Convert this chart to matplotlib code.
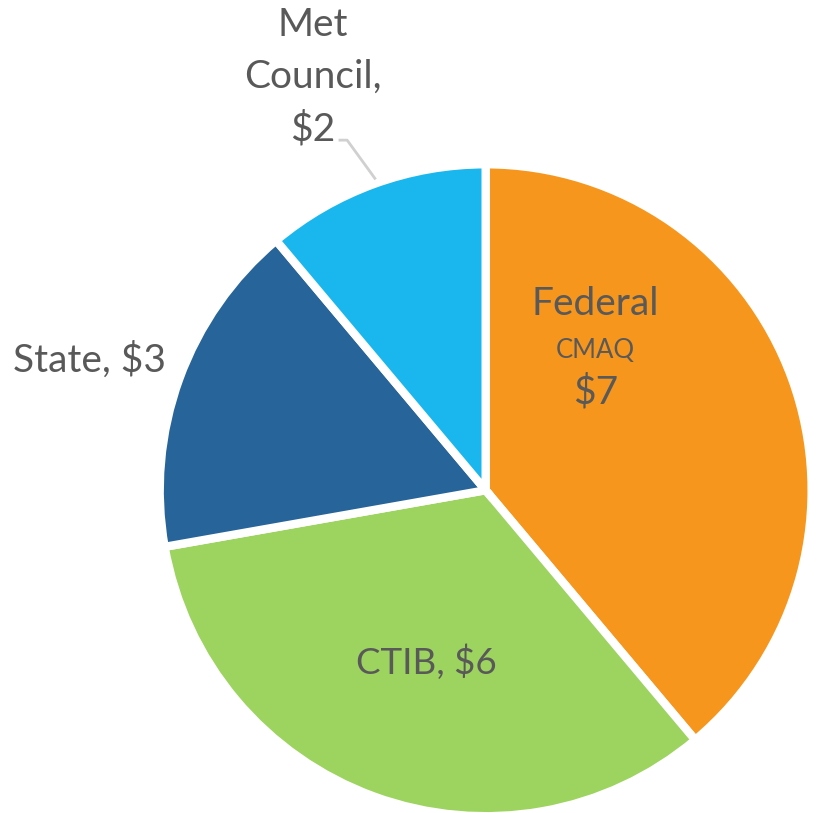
import matplotlib.pyplot as plt

# ---------- Data ----------
labels = ["Federal", "CTIB", "State", "Met Council"]
values = [7, 6, 3, 2]
colors = ["#F7961D", "#9DD35F", "#276499", "#1AB6EE"]

plt.rcParams["font.family"] = ["Lato", "DejaVu Sans"]
text_color = "#595959"

fig = plt.figure(figsize=(8.19, 8.13), dpi=100)
ax = fig.add_axes([0.195, -0.004, 0.796, 0.802])

ax.pie(
    values,
    colors=colors,
    startangle=90,
    counterclock=False,
    radius=1.0,
    wedgeprops=dict(edgecolor="white", linewidth=6),
)
ax.set_xlim(-1, 1)
ax.set_ylim(-1, 1)
ax.set_aspect("equal")
ax.axis("off")

# ---------- Labels ----------
ax.text(0.337, 0.57, labels[0], ha="center", va="center", fontsize=28, color=text_color)
ax.text(0.337, 0.43, "CMAQ", ha="center", va="center", fontsize=18.5, color=text_color)
ax.text(0.337, 0.30, f"${values[0]}", ha="center", va="center", fontsize=28, color=text_color)

ax.text(-0.181, -0.528, f"{labels[1]}, ${values[1]}", ha="center", va="center",
        fontsize=26.5, color=text_color)
ax.text(-1.215, 0.399, f"{labels[2]}, ${values[2]}", ha="center", va="center",
        fontsize=28, color=text_color, clip_on=False)
ax.text(-0.531, 1.268, "Met\nCouncil,\n$" + str(values[3]), ha="center", va="center",
        fontsize=28, color=text_color, linespacing=1.55, clip_on=False)

# leader line for Met Council
ax.plot([-0.447, -0.425, -0.340], [1.074, 1.074, 0.957], color="#D0D0D0",
        linewidth=2, clip_on=False)

fig.savefig("out.png", dpi=100)
